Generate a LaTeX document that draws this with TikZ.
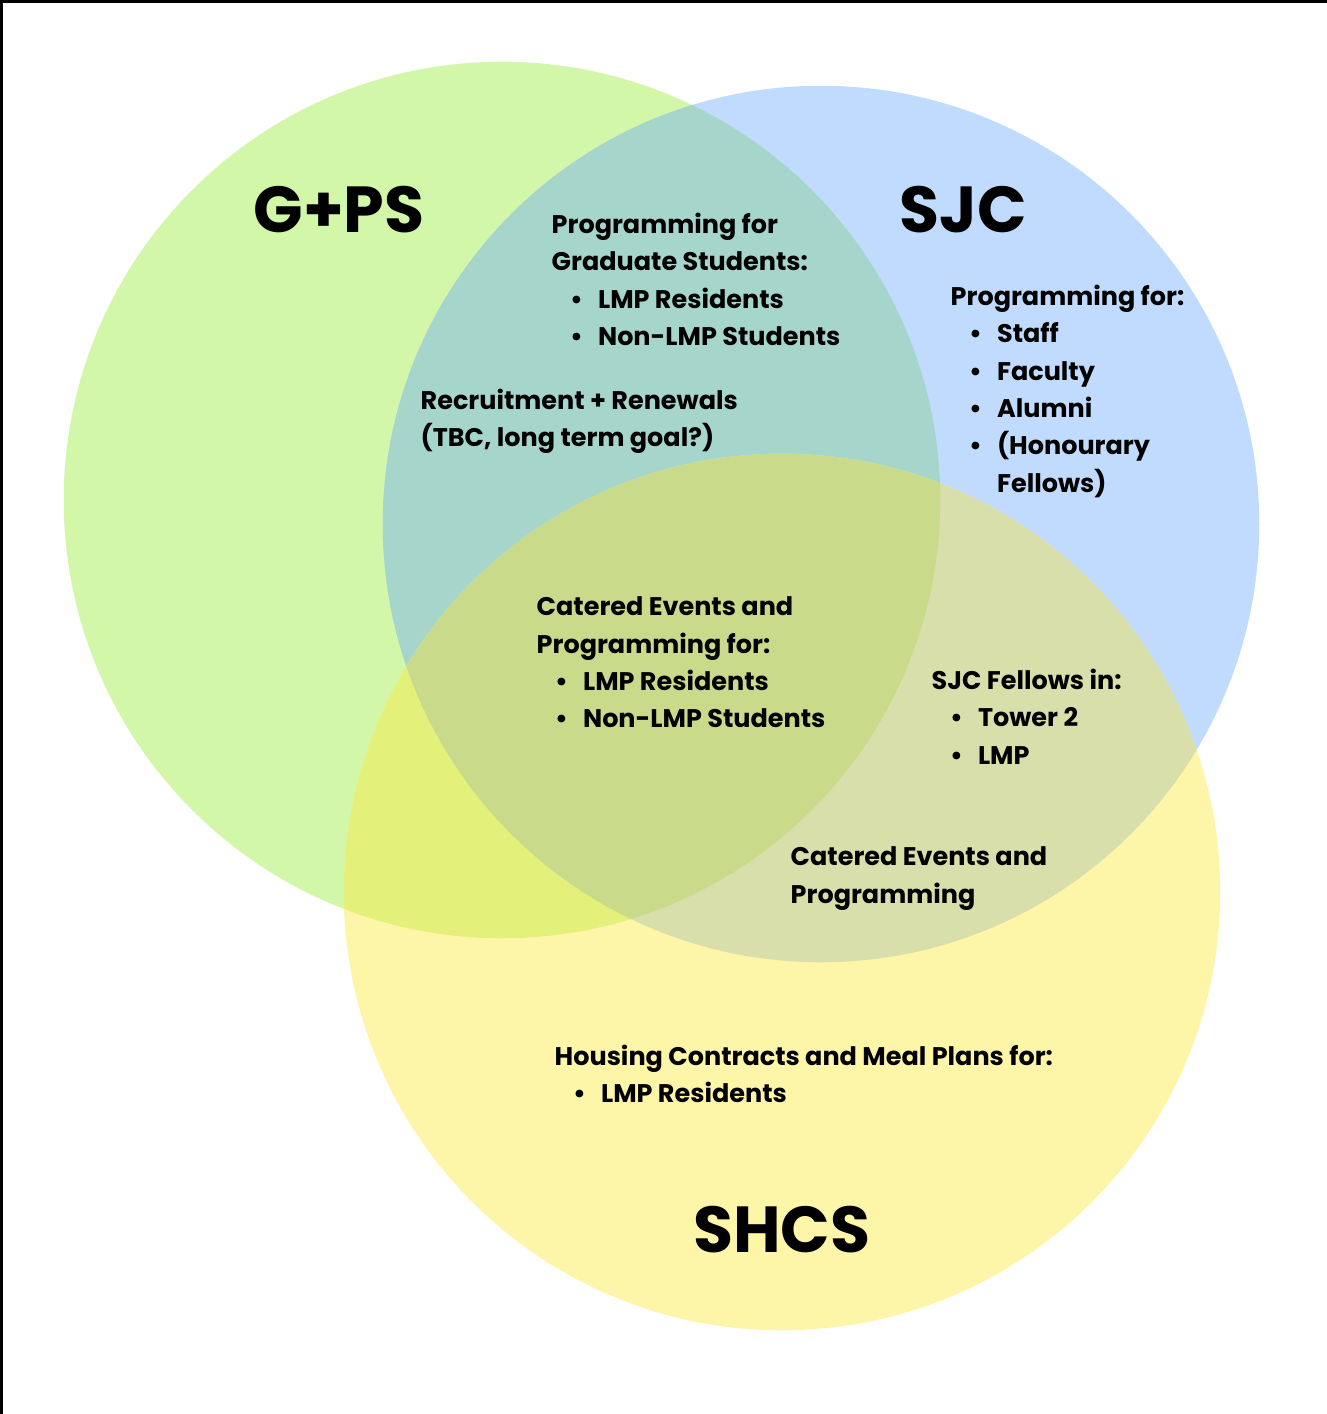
\documentclass[tikz,border=0pt]{standalone}
\usepackage{fontspec}
\setmainfont{Poppins}

\definecolor{gpsgreen}{HTML}{D2F7A9}
\definecolor{sjcblue}{HTML}{C0DBFD}
\definecolor{shcsyellow}{HTML}{FDF5A8}
\definecolor{gpssjc}{HTML}{A6D6CB}
\definecolor{gpsshcs}{HTML}{E3F07A}
\definecolor{sjcshcs}{HTML}{D8DFAA}
\definecolor{allthree}{HTML}{C9DB8B}

\newcommand{\bul}[1]{\hspace*{0.72em}\makebox[1.1em][l]{\textbullet}#1}
\newcommand{\hang}[1]{\hspace*{1.82em}#1}

\tikzset{
  title/.style={font=\fontsize{18.5pt}{22pt}\selectfont\bfseries, inner sep=0pt},
  block/.style={anchor=north west, align=left, inner sep=0pt,
    font=\fontsize{7.25pt}{10.65pt}\selectfont\bfseries}
}

\begin{document}
\begin{tikzpicture}[x=0.01cm,y=-0.01cm]
  \useasboundingbox (0,0) rectangle (1327,1414);
  \fill[white] (0,0) rectangle (1327,1414);
  \draw[line width=0.03cm] (1.5,1414) -- (1.5,1.5) -- (1327,1.5);

  \coordinate (cg) at (502,500);  % G+PS
  \coordinate (cb) at (821,524);  % SJC
  \coordinate (cy) at (782,892);  % SHCS

  \fill[gpsgreen] (cg) circle [radius=4.38cm];
  \fill[sjcblue] (cb) circle [radius=4.38cm];
  \fill[shcsyellow] (cy) circle [radius=4.38cm];
  \begin{scope}
    \clip (cg) circle [radius=4.38cm];
    \fill[gpssjc] (cb) circle [radius=4.38cm];
    \fill[gpsshcs] (cy) circle [radius=4.38cm];
  \end{scope}
  \begin{scope}
    \clip (cb) circle [radius=4.38cm];
    \fill[sjcshcs] (cy) circle [radius=4.38cm];
    \clip (cg) circle [radius=4.38cm];
    \fill[allthree] (cy) circle [radius=4.38cm];
  \end{scope}

  \node[title] (gps) at (339,210) {G+PS};
  \node[title] (sjc) at (963,210) {SJC};
  \node[title] (shcs) at (782,1230) {SHCS};

  \node[block] (gradprog) at (551,212) {Programming for\\Graduate Students:\\
    \bul{LMP Residents}\\\bul{Non-LMP Students}};
  \node[block] (recruit) at (420,388) {Recruitment + Renewals\\(TBC, long term goal?)};
  \node[block] (sjcprog) at (950,284) {Programming for:\\\bul{Staff}\\\bul{Faculty}\\
    \bul{Alumni}\\\bul{(Honourary}\\\hang{Fellows)}};
  \node[block] (catered) at (536,596) {Catered Events and\\Programming for:\\
    \bul{LMP Residents}\\\bul{Non-LMP Students}};
  \node[block] (fellows) at (931,668) {SJC Fellows in:\\\bul{Tower 2}\\\bul{LMP}};
  \node[block] (cateredsjc) at (790,846) {Catered Events and\\Programming};
  \node[block] (housing) at (554,1044) {Housing Contracts and Meal Plans for:\\
    \bul{LMP Residents}};
\end{tikzpicture}
\end{document}
